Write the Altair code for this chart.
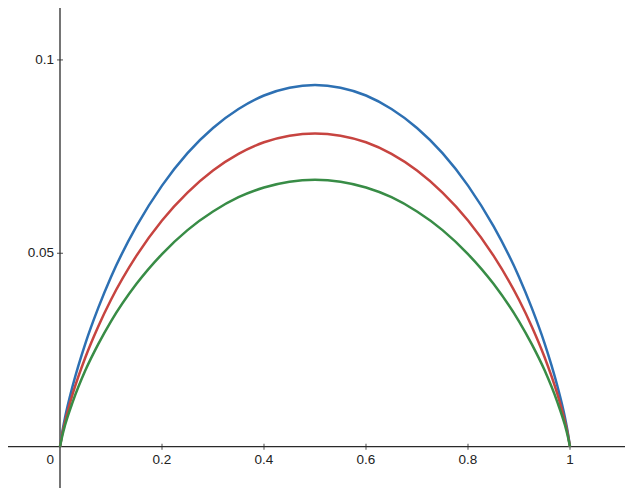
import altair as alt
import pandas as pd

# x positions at which the curves were read
xs_left = [0.0, 0.005, 0.01, 0.025, 0.05, 0.075, 0.1, 0.15, 0.2, 0.25, 0.3, 0.35, 0.4, 0.45, 0.5]
blue_left = [0.0, 0.0042, 0.0076, 0.0158, 0.0268, 0.0359, 0.0439, 0.0570, 0.0675, 0.0759, 0.0824, 0.0873, 0.0908, 0.0928, 0.0935]
red_left = [0.0, 0.0037, 0.0065, 0.0137, 0.0232, 0.0311, 0.0380, 0.0494, 0.0585, 0.0657, 0.0714, 0.0757, 0.0787, 0.0804, 0.0810]
green_left = [0.0, 0.0031, 0.0056, 0.0116, 0.0198, 0.0265, 0.0324, 0.0421, 0.0498, 0.0560, 0.0608, 0.0645, 0.0670, 0.0685, 0.0690]

# curves are symmetric about x = 0.5 in the picture
xs = xs_left + [round(1 - v, 4) for v in reversed(xs_left[:-1])]
blue = blue_left + list(reversed(blue_left[:-1]))
red = red_left + list(reversed(red_left[:-1]))
green = green_left + list(reversed(green_left[:-1]))

series_names = ["blue", "red", "green"]
series_colors = ["#2d70b3", "#c74440", "#388c46"]

x_ticks = [0.2, 0.4, 0.6, 0.8, 1.0]
x_tick_labels = ["0.2", "0.4", "0.6", "0.8", "1"]
y_ticks = [0.05, 0.1]
y_tick_labels = ["0.05", "0.1"]

rows = []
for name, vals in zip(series_names, [blue, red, green]):
    for xv, yv in zip(xs, vals):
        rows.append({"x": xv, "y": yv, "s": name})
df = pd.DataFrame(rows)

xscale = alt.Scale(domain=[-0.10196, 1.10784], nice=False, zero=False)
yscale = alt.Scale(domain=[-0.01068, 0.11342], nice=False, zero=False)

axis_color = "#2a2a2a"
font = "Liberation Sans"
zero_df = pd.DataFrame({"x": [0], "y": [0], "label": ["0"]})

X = alt.X("x:Q", scale=xscale, axis=None)
Y = alt.Y("y:Q", scale=yscale, axis=None)

xaxis_line = alt.Chart(zero_df).mark_rule(color=axis_color, strokeWidth=1.3).encode(y=Y)
yaxis_line = alt.Chart(zero_df).mark_rule(color=axis_color, strokeWidth=1.3).encode(x=X)

xt = pd.DataFrame({"x": x_ticks, "label": x_tick_labels, "y": [0] * len(x_ticks)})
yt = pd.DataFrame({"y": y_ticks, "label": y_tick_labels, "x": [0] * len(y_ticks)})

x_tick_marks = alt.Chart(xt).mark_tick(orient="vertical", size=6, thickness=1.2, color=axis_color).encode(x=X, y=Y)
y_tick_marks = alt.Chart(yt).mark_tick(orient="horizontal", size=6, thickness=1.2, color=axis_color).encode(x=X, y=Y)

x_labels = alt.Chart(xt).mark_text(font=font, fontSize=13.5, color="#222", align="center",
                                   baseline="alphabetic", dy=17).encode(x=X, y=Y, text="label:N")
y_labels = alt.Chart(yt).mark_text(font=font, fontSize=13.5, color="#222", align="right",
                                   baseline="middle", dx=-6).encode(x=X, y=Y, text="label:N")
origin_label = alt.Chart(zero_df).mark_text(
    font=font, fontSize=13.5, color="#222", align="right", baseline="alphabetic", dx=-6, dy=17
).encode(x=X, y=Y, text="label:N")

lines = alt.Chart(df).mark_line(strokeWidth=2.5, interpolate="monotone").encode(
    x=X, y=Y,
    color=alt.Color("s:N", scale=alt.Scale(domain=series_names, range=series_colors), legend=None),
    detail="s:N",
)

chart = alt.layer(
    xaxis_line, yaxis_line, x_tick_marks, y_tick_marks, x_labels, y_labels, origin_label, lines
).properties(
    width=617, height=480, padding=0, autosize=alt.AutoSizeParams(type="none"),
    background="white"
).configure_view(stroke=None)

chart.save("out.html", embed_options={"renderer": "svg", "actions": False})
